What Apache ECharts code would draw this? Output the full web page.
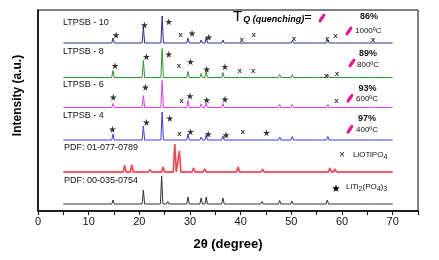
<!DOCTYPE html>
<html>
<head>
<meta charset="utf-8">
<script src="https://cdn.jsdelivr.net/npm/echarts@6/dist/echarts.min.js"></script>
<style>
    html, body { margin: 0; padding: 0; background: #fff; }
    #chart { width: 439px; height: 260px; }
</style>
</head>
<body>
<div id="chart"></div>
<script>
    // peak lists: [2theta, height]
    var ltpsb10Peaks = [[14.8,5],[20.8,16],[24.5,27],[25.7,2],[28.0,2],[29.6,5],[32.2,3],[33.2,6],[36.5,3],[39.6,1],[42.3,1],[44.4,1.5],[47.7,2],[50.2,2.5],[54.6,1],[57.2,3],[58.8,1],[63.5,1],[65.8,1]];
    var ltpsb8Peaks = [[14.8,7],[20.8,17],[24.5,29],[25.7,2],[28.0,2],[29.6,6],[32.2,4],[33.2,6],[36.5,5],[40.0,1],[42.3,1],[44.4,1.5],[47.7,3],[50.2,3],[54.6,1],[57.2,3],[59.0,1],[63.5,1.5],[65.8,1]];
    var ltpsb6Peaks = [[14.8,4],[20.8,12],[24.5,27],[25.7,1.5],[28.0,1.5],[29.6,7],[32.2,3.5],[33.2,4.5],[36.5,4],[44.4,2],[47.7,3],[50.2,3],[57.2,3],[63.5,1],[65.8,1]];
    var ltpsb4Peaks = [[14.8,6],[20.8,14],[24.5,28],[25.7,2],[28.0,2],[29.6,6],[32.2,3],[33.2,5],[36.5,4],[44.4,2],[47.7,3],[50.2,3.5],[54.6,1],[57.2,3.5],[63.5,1.5],[65.8,1]];
    var pdfLiotipoPeaks = [[17.1,6.5],[18.5,7],[22.1,2.5],[24.7,5],[27.0,28],[27.9,21],[30.7,4],[32.9,3],[34.6,1.5],[39.5,5],[44.3,3],[49.2,1.5],[55.6,2],[57.6,4],[58.6,3],[61.1,1],[64.8,1.5]];
    var pdfLtpPeaks = [[14.8,4],[20.8,14],[24.4,28],[25.6,2.5],[29.6,7],[32.2,6],[33.2,7],[36.5,6],[44.2,2.5],[47.7,3.5],[50.1,3],[54.6,1.5],[57.1,4],[58.8,1],[63.6,1],[65.8,1]];

    // vertical offsets of each pattern
    var offsets = { ltpsb10: 168, ltpsb8: 133.5, ltpsb6: 103.5, ltpsb4: 71, liotipo: 39, ltp: 7 };

    // phase markers [2theta, intensity]
    var starPoints = [[15.4,176],[21.0,186],[25.8,189.3],[30.4,177.7],[33.7,173.7],
        [15.2,145.3],[21.4,154.3],[25.8,156.7],[30.1,149.3],[33.3,141.7],[36.9,144.3],
        [14.85,113.7],[21.2,123.7],[30.0,115],[33.3,111],[36.9,111.7],
        [14.7,81.7],[21.4,88.7],[26.0,92.7],[30.1,79.3],[33.6,77],[37.1,76],[45.1,78.3]];
    var crossPoints = [[28.1,176.7],[40.2,171.7],[42.6,176],[50.5,172.7],[57.1,172.7],[58.7,175.3],[66.1,171.7],
        [27.8,145.3],[39.8,140.3],[42.5,140],[56.9,135],[59.0,137.7],
        [28.3,110],[58.9,110.3],
        [27.9,77],[40.4,79.3]];

    var xTicks = [0, 10, 20, 30, 40, 50, 60, 70];

    function trace(peaks, base, w) {
        var pts = [[5, base]];
        peaks.forEach(function (p) {
            pts.push([p[0] - w, base], [p[0], base + p[1]], [p[0] + w, base]);
        });
        pts.push([70, base]);
        return pts;
    }

    function lineSeries(name, data, color, width) {
        return {
            name: name, type: 'line', data: data, symbol: 'none',
            lineStyle: { color: color, width: width || 1 },
            animation: false, z: 2
        };
    }

    var starPath = 'path://M50,0 L61,35 L98,35 L68,57 L79,91 L50,70 L21,91 L32,57 L2,35 L39,35 Z';

    function starShape(cx, cy, r) {
        var pts = [];
        for (var i = 0; i < 10; i++) {
            var a = -Math.PI / 2 + i * Math.PI / 5;
            var rr = i % 2 === 0 ? r : r * 0.42;
            pts.push([cx + rr * Math.cos(a), cy + rr * Math.sin(a)]);
        }
        return { type: 'polygon', shape: { points: pts }, style: { fill: '#000' } };
    }
    function pink(x, y) {
        return {
            type: 'polygon',
            shape: { points: [[x + 1.5, y - 4.5], [x + 3.5, y - 3], [x - 1.5, y + 4.5], [x - 3.5, y + 3]], smooth: 0.3 },
            style: { fill: '#e8198b' }
        };
    }
    function txt(x, y, text, size, extra) {
        var s = { text: text, fontSize: size, fontFamily: 'Liberation Sans, Arial', fill: '#111', textVerticalAlign: 'middle' };
        for (var k in extra) s[k] = extra[k];
        return { type: 'text', x: x, y: y, style: s };
    }

    var chart = echarts.init(document.getElementById('chart'));
    chart.setOption({
        animation: false,
        grid: { left: 38, right: 21, top: 10, bottom: 49, show: true, borderColor: '#000', borderWidth: 1 },
        xAxis: {
            type: 'value', min: 0, max: 75, interval: 5,
            name: '2θ (degree)', nameLocation: 'middle', nameGap: 27,
            nameTextStyle: { fontSize: 13, fontWeight: 'bold', color: '#000', fontFamily: 'Liberation Sans, Arial' },
            axisLine: { lineStyle: { color: '#000', width: 1.5 } },
            axisTick: { show: true, length: 4, inside: false, lineStyle: { color: '#000' } },
            axisLabel: {
                margin: 5, fontSize: 11, color: '#111', fontFamily: 'Liberation Sans, Arial',
                formatter: function (v) { return xTicks.indexOf(v) >= 0 ? String(v) : ''; }
            },
            splitLine: { show: false }
        },
        yAxis: {
            type: 'value', min: 0, max: 201,
            axisLine: { show: true, lineStyle: { color: '#000', width: 1.5 } },
            axisTick: { show: false }, axisLabel: { show: false }, splitLine: { show: false }
        },
        series: [
            lineSeries('LTPSB - 10', trace(ltpsb10Peaks, offsets.ltpsb10, 0.25), '#2e2e8a'),
            lineSeries('LTPSB - 8', trace(ltpsb8Peaks, offsets.ltpsb8, 0.25), '#2f962f'),
            lineSeries('LTPSB - 6', trace(ltpsb6Peaks, offsets.ltpsb6, 0.25), '#e03ce0'),
            lineSeries('LTPSB - 4', trace(ltpsb4Peaks, offsets.ltpsb4, 0.25), '#3c3cdc'),
            {
                name: 'PDF: 01-077-0789', type: 'line', data: trace(pdfLiotipoPeaks, offsets.liotipo, 0.3), symbol: 'none',
                lineStyle: { color: '#e24a55', width: 1.4, shadowColor: 'rgba(242,140,145,0.9)', shadowBlur: 1.5 },
                z: 2
            },
            lineSeries('PDF: 00-035-0754', trace(pdfLtpPeaks, offsets.ltp, 0.25), '#333333'),
            {
                name: 'stars', type: 'scatter', data: starPoints, symbol: starPath, symbolSize: 7,
                itemStyle: { color: '#000' }, z: 5
            },
            {
                name: 'crosses', type: 'scatter', data: crossPoints, symbolSize: 1,
                itemStyle: { color: 'transparent' },
                label: { show: true, position: 'inside', formatter: 'x', fontSize: 8, fontWeight: 'bold', color: '#000', fontFamily: 'Liberation Sans, Arial' },
                z: 5
            }
        ],
        graphic: [
            txt(63, 22.7, 'LTPSB - 10', 9),
            txt(63, 51.7, 'LTPSB - 8', 9),
            txt(63, 84.3, 'LTPSB - 6', 9),
            txt(63, 116, 'LTPSB - 4', 9),
            txt(64, 147.3, 'PDF: 01-077-0789', 9),
            txt(64, 180.7, 'PDF: 00-035-0754', 9),
            {
                type: 'text', x: 233, y: 17,
                style: {
                    text: '{t|T}{q|Q (quenching)}{e|=}',
                    textVerticalAlign: 'middle', fontFamily: 'Liberation Sans, Arial', fill: '#000',
                    rich: {
                        t: { fontSize: 15, fontFamily: 'Liberation Sans, Arial' },
                        q: { fontSize: 9, fontStyle: 'italic', fontWeight: 'bold', padding: [6, 0, 0, 1], fontFamily: 'Liberation Sans, Arial' },
                        e: { fontSize: 13, fontFamily: 'Liberation Sans, Arial' }
                    }
                }
            },
            pink(322, 18),
            txt(369, 17, '86%', 9, { fontWeight: 'bold', textAlign: 'center' }),
            pink(349, 31), txt(355, 31, '1000ºC', 8),
            txt(368, 54, '89%', 9, { fontWeight: 'bold', textAlign: 'center' }),
            pink(352, 63), txt(357, 64.5, '800ºC', 8),
            txt(367.5, 88.3, '93%', 9, { fontWeight: 'bold', textAlign: 'center' }),
            pink(350, 98.3), txt(356, 98.5, '600ºC', 8),
            txt(367, 119, '97%', 9, { fontWeight: 'bold', textAlign: 'center' }),
            pink(350, 129.3), txt(356, 129.5, '400ºC', 8),
            txt(339, 155, '×', 10),
            {
                type: 'text', x: 353, y: 155,
                style: {
                    text: '{a|LiOTiPO}{s|4}', textVerticalAlign: 'middle', fill: '#111',
                    rich: { a: { fontSize: 8, fontFamily: 'Liberation Sans, Arial' }, s: { fontSize: 7, padding: [5, 0, 0, 0], fontFamily: 'Liberation Sans, Arial' } }
                }
            },
            starShape(336, 188.5, 4),
            {
                type: 'text', x: 346, y: 187,
                style: {
                    text: '{a|LiTi}{s|2}{a|(PO}{s|4}{a|)}{s|3}', textVerticalAlign: 'middle', fill: '#111',
                    rich: { a: { fontSize: 8, fontFamily: 'Liberation Sans, Arial' }, s: { fontSize: 7, padding: [5, 0, 0, 0], fontFamily: 'Liberation Sans, Arial' } }
                }
            },
            {
                type: 'text', x: 18, y: 95.5, rotation: Math.PI / 2,
                style: { text: 'Intensity (a.u.)', fontSize: 12, fontWeight: 'bold', fill: '#000', fontFamily: 'Liberation Sans, Arial', textAlign: 'center', textVerticalAlign: 'middle' }
            }
        ]
    });
</script>
</body>
</html>
